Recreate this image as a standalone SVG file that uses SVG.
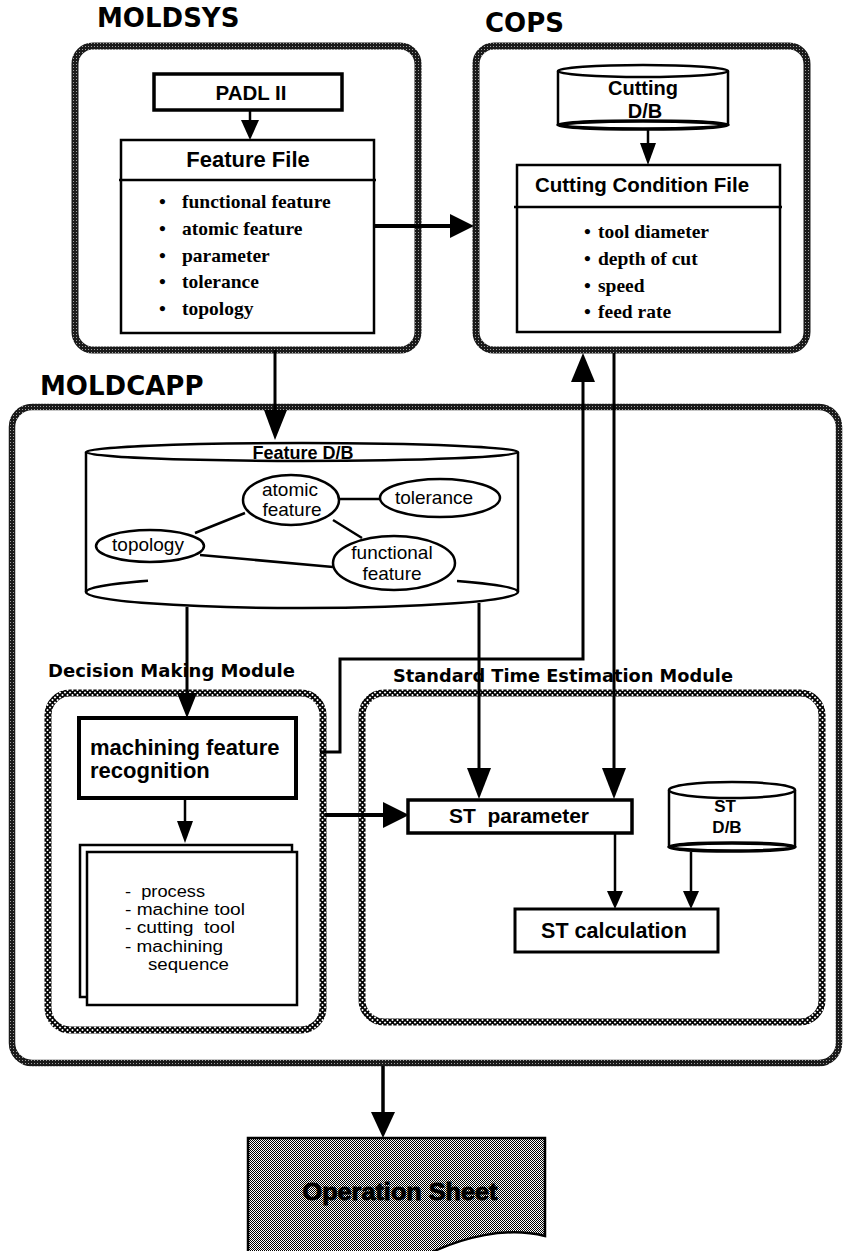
<svg xmlns="http://www.w3.org/2000/svg" width="844" height="1251" viewBox="0 0 844 1251">
<defs>
<pattern id="dk" width="3" height="3" patternUnits="userSpaceOnUse"><rect width="3" height="3" fill="#1a1a1a"/><rect x="1" y="1" width="1" height="1" fill="#a0a0a0"/></pattern>
<pattern id="xx" width="5" height="5" patternUnits="userSpaceOnUse"><rect width="5" height="5" fill="#fff"/><path d="M0,0L5,5M5,0L0,5" stroke="#000" stroke-width="1.7"/></pattern>
<pattern id="ht" width="2" height="2" patternUnits="userSpaceOnUse"><rect width="2" height="2" fill="#fff"/><rect width="1" height="1" fill="#000"/><rect x="1" y="1" width="1" height="1" fill="#000"/></pattern>
</defs>
<style>
.title{font-family:"DejaVu Sans","Liberation Sans",sans-serif;font-weight:bold;font-size:26px;fill:#000}
.mod{font-family:"DejaVu Sans","Liberation Sans",sans-serif;font-weight:bold;font-size:17px;fill:#000}
.sb{font-family:"Liberation Sans",Arial,sans-serif;font-weight:bold;fill:#000}
.sr{font-family:"Liberation Sans",Arial,sans-serif;fill:#000}
.ser{font-family:"Liberation Serif","Times New Roman",serif;font-weight:bold;font-size:19.5px;fill:#000}
.box{fill:#fff;stroke:#000}
.ln{fill:none;stroke:#000}
.ah{fill:#000;stroke:none}
.sys{fill:none;stroke:url(#dk);stroke-width:7}
.dm{fill:none;stroke:url(#xx);stroke-width:7}
.pre{white-space:pre}
.doc{font-family:"Liberation Sans",Arial,sans-serif;font-size:16px;fill:#000;white-space:pre}
</style>

<g id="moldsys">
<text class="title" x="97" y="27">MOLDSYS</text>
<rect class="sys" x="75" y="46" width="343" height="304" rx="18"/>
</g>
<g id="cops">
<text class="title" x="485" y="32">COPS</text>
<rect class="sys" x="476" y="46" width="331" height="304" rx="18"/>
</g>
<g id="moldcapp">
<text class="title" x="40" y="395">MOLDCAPP</text>
<rect class="sys" x="12" y="407" width="827" height="656" rx="20" style="stroke-width:6.5"/>
</g>
<g id="decision-module">
<text class="mod" x="48" y="677" textLength="247" lengthAdjust="spacingAndGlyphs">Decision  Making  Module</text>
<rect class="dm" x="48" y="693" width="275" height="337" rx="22"/>
</g>
<g id="st-module">
<text class="mod" x="393" y="682" textLength="340" lengthAdjust="spacingAndGlyphs">Standard  Time  Estimation  Module</text>
<rect class="dm" x="362" y="693" width="460" height="329" rx="22"/>
</g>

<g id="connectors">
<line class="ln" x1="250" y1="110" x2="250" y2="122" stroke-width="2.5"/>
<polygon class="ah" points="241,120 259,120 250,140"/>
<line class="ln" x1="648" y1="128" x2="648" y2="145" stroke-width="2.5"/>
<polygon class="ah" points="640,143 656,143 648,165"/>
<line class="ln" x1="374" y1="226" x2="452" y2="226" stroke-width="4"/>
<polygon class="ah" points="450,214 450,238 474,226"/>
<line class="ln" x1="275" y1="350" x2="275" y2="412" stroke-width="3"/>
<polygon class="ah" points="264,410 287,410 275,440"/>
<line class="ln" x1="187" y1="607" x2="187" y2="695" stroke-width="3"/>
<polygon class="ah" points="177,693 197,693 187,718"/>
<line class="ln" x1="479" y1="603" x2="479" y2="770" stroke-width="3"/>
<polygon class="ah" points="467,768 491,768 479,799"/>
<line class="ln" x1="614" y1="353" x2="614" y2="770" stroke-width="3"/>
<polygon class="ah" points="602,768 626,768 614,799"/>
<polyline class="ln" points="320,752 340,752 340,659 583,659 583,380" stroke-width="3"/>
<polygon class="ah" points="571,382 595,382 583,353"/>
<line class="ln" x1="325" y1="815" x2="385" y2="815" stroke-width="4"/>
<polygon class="ah" points="383,802 383,828 409,815"/>
<line class="ln" x1="185" y1="798" x2="185" y2="823" stroke-width="2.5"/>
<polygon class="ah" points="177,821 193,821 185,843"/>
<line class="ln" x1="615" y1="833" x2="615" y2="893" stroke-width="2.5"/>
<polygon class="ah" points="607,891 623,891 615,909"/>
<line class="ln" x1="691" y1="852" x2="691" y2="893" stroke-width="2.5"/>
<polygon class="ah" points="683,891 699,891 691,909"/>
<line class="ln" x1="383" y1="1066" x2="383" y2="1114" stroke-width="3.5"/>
<polygon class="ah" points="371,1112 395,1112 383,1138"/>
</g>

<g id="padl">
<rect class="box" x="154" y="74" width="188" height="36" stroke-width="3.5"/>
<text class="sb" x="251" y="100" font-size="20.5" text-anchor="middle">PADL II</text>
</g>
<g id="feature-file">
<rect class="box" x="121" y="140" width="253" height="193" stroke-width="2.5"/>
<line class="ln" x1="119" y1="180" x2="376" y2="180" stroke-width="2.5"/>
<text class="sb" x="248" y="167" font-size="22" text-anchor="middle">Feature File</text>
<text class="ser" y="208"><tspan x="159">•</tspan><tspan x="182">functional feature</tspan></text>
<text class="ser" y="235"><tspan x="159">•</tspan><tspan x="182">atomic feature</tspan></text>
<text class="ser" y="262"><tspan x="159">•</tspan><tspan x="182">parameter</tspan></text>
<text class="ser" y="288"><tspan x="159">•</tspan><tspan x="182">tolerance</tspan></text>
<text class="ser" y="315"><tspan x="159">•</tspan><tspan x="182">topology</tspan></text>
</g>
<g id="cutting-db">
<path class="ln" d="M558,71 V125 M728,71 V125" stroke-width="2.5"/>
<ellipse class="box" cx="643" cy="71" rx="85" ry="6" stroke-width="2.5"/>
<ellipse cx="643" cy="125" rx="85" ry="4" fill="none" stroke="#000" stroke-width="3.5"/>
<text class="sb" x="643" y="95" font-size="20" text-anchor="middle">Cutting</text>
<text class="sb" x="645" y="118" font-size="20" text-anchor="middle">D/B</text>
</g>
<g id="cutting-condition-file">
<rect class="box" x="517" y="165" width="263" height="167" stroke-width="2.5"/>
<line class="ln" x1="514" y1="207" x2="782" y2="207" stroke-width="2.5"/>
<text class="sb" x="642" y="192" font-size="20.5" text-anchor="middle">Cutting Condition File</text>
<text class="ser" y="238" font-size="20"><tspan x="584">•</tspan><tspan x="598">tool diameter</tspan></text>
<text class="ser" y="265" font-size="20"><tspan x="584">•</tspan><tspan x="598">depth of cut</tspan></text>
<text class="ser" y="292" font-size="20"><tspan x="584">•</tspan><tspan x="598">speed</tspan></text>
<text class="ser" y="318" font-size="20"><tspan x="584">•</tspan><tspan x="598">feed rate</tspan></text>
</g>
<g id="feature-db">
<path class="ln" d="M86,452 V592 M518,452 V592" stroke-width="2.5"/>
<ellipse class="box" cx="302" cy="452" rx="216" ry="9" stroke-width="2.5"/>
<path class="ln" d="M86,592 A216,16 0 0 0 518,592 M86,592 A216,16 0 0 1 148,580.8 M457,580.9 A216,16 0 0 1 518,592" stroke-width="2.5"/>
<text class="sb" x="303" y="459" font-size="18" text-anchor="middle">Feature D/B</text>
<path class="ln" d="M195,533 L245,513 M340,499 L380,499 M333,520 L362,538 M200,555 L333,567" stroke-width="2.5"/>
<ellipse class="box" cx="291" cy="500" rx="48" ry="25" stroke-width="2.5"/>
<text class="sr" x="290" y="496" font-size="19" text-anchor="middle">atomic</text>
<text class="sr" x="292" y="516" font-size="19" text-anchor="middle">feature</text>
<ellipse class="box" cx="440" cy="498" rx="60" ry="19" stroke-width="2.5"/>
<text class="sr" x="434" y="504" font-size="19" text-anchor="middle">tolerance</text>
<ellipse class="box" cx="150" cy="546" rx="54" ry="16" stroke-width="2.5"/>
<text class="sr" x="148" y="551" font-size="19" text-anchor="middle">topology</text>
<ellipse class="box" cx="394" cy="563" rx="61" ry="27" stroke-width="2.5"/>
<text class="sr" x="392" y="559" font-size="19" text-anchor="middle">functional</text>
<text class="sr" x="392" y="580" font-size="19" text-anchor="middle">feature</text>
</g>
<g id="machining-feature-recognition">
<rect class="box" x="79" y="718" width="217" height="80" stroke-width="4"/>
<text class="sb" x="90" y="755" font-size="22">machining feature</text>
<text class="sb" x="90" y="778" font-size="22">recognition</text>
</g>
<g id="process-document">
<rect class="box" x="80" y="845" width="212" height="152" stroke-width="2.5"/>
<rect class="box" x="87" y="852" width="210" height="153" stroke-width="2.5"/>
<text class="doc" x="125" y="897" textLength="80" lengthAdjust="spacingAndGlyphs">-  process</text>
<text class="doc" x="125" y="915" textLength="120" lengthAdjust="spacingAndGlyphs">- machine tool</text>
<text class="doc" x="125" y="933" textLength="110" lengthAdjust="spacingAndGlyphs">- cutting  tool</text>
<text class="doc" x="125" y="952" textLength="98" lengthAdjust="spacingAndGlyphs">- machining</text>
<text class="doc" x="148" y="970" textLength="81" lengthAdjust="spacingAndGlyphs">sequence</text>
</g>
<g id="st-parameter">
<rect class="box" x="408" y="800" width="224" height="33" stroke-width="3.5"/>
<text class="sb pre" x="519" y="823" font-size="21" text-anchor="middle">ST  parameter</text>
</g>
<g id="st-db">
<path class="ln" d="M669,790 V847 M795,790 V847" stroke-width="2.5"/>
<ellipse class="box" cx="732" cy="790" rx="63" ry="8" stroke-width="2.5"/>
<ellipse cx="732" cy="847" rx="63" ry="4" fill="none" stroke="#000" stroke-width="3.5"/>
<text class="sb" x="725" y="812" font-size="17" text-anchor="middle">ST</text>
<text class="sb" x="727" y="833" font-size="17" text-anchor="middle">D/B</text>
</g>
<g id="st-calculation">
<rect class="box" x="515" y="909" width="203" height="43" stroke-width="3"/>
<text class="sb" x="614" y="938" font-size="21.5" text-anchor="middle">ST calculation</text>
</g>
<g id="operation-sheet">
<path d="M248,1138 H545 V1236 C505,1226 462,1238 430,1253 H248 Z" fill="url(#ht)" stroke="#000" stroke-width="2.5"/>
<text class="sb" x="400" y="1200" font-size="24" text-anchor="middle" textLength="195" lengthAdjust="spacingAndGlyphs" fill="#e6e6e6" stroke="#000" stroke-width="0.9">Operation Sheet</text>
</g>
</svg>
